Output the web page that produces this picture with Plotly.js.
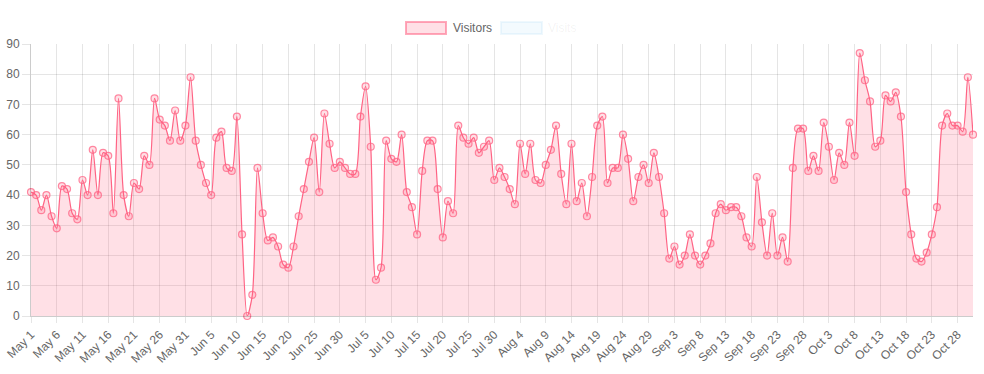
<!DOCTYPE html>
<html>
<head>
<meta charset="utf-8">
<script src="https://cdn.plot.ly/plotly-3.0.1.min.js"></script>
<style>html,body{margin:0;padding:0;background:#fff;}#chart{width:984px;height:374px;}</style>
</head>
<body>
<div id="chart"></div>
<script>
// Daily visitors, May 1 to Oct 31
var startDate = '2019-05-01';
var endDate = '2019-10-31';
var visitors = [
  41, 40, 35, 40, 33, 29, 43, 42, 34, 32,
  45, 40, 55, 40, 54, 53, 34, 72, 40, 33,
  44, 42, 53, 50, 72, 65, 63, 58, 68, 58,
  63, 79, 58, 50, 44, 40, 59, 61, 49, 48,
  66, 27, 0, 7, 49, 34, 25, 26, 23, 17,
  16, 23, 33, 42, 51, 59, 41, 67, 57, 49,
  51, 49, 47, 47, 66, 76, 56, 12, 16, 58,
  52, 51, 60, 41, 36, 27, 48, 58, 58, 42,
  26, 38, 34, 63, 59, 57, 59, 54, 56, 58,
  45, 49, 46, 42, 37, 57, 47, 57, 45, 44,
  50, 55, 63, 47, 37, 57, 38, 44, 33, 46,
  63, 66, 44, 49, 49, 60, 52, 38, 46, 50,
  44, 54, 46, 34, 19, 23, 17, 20, 27, 20,
  17, 20, 24, 34, 37, 35, 36, 36, 33, 26,
  23, 46, 31, 20, 34, 20, 26, 18, 49, 62,
  62, 48, 53, 48, 64, 56, 45, 54, 50, 64,
  53, 87, 78, 71, 56, 58, 73, 71, 74, 66,
  41, 27, 19, 18, 21, 27, 36, 63, 67, 63,
  63, 61, 79, 60
];
var seriesNames = ['Visitors', 'Visits'];

// date categories, one per value
var dates = [];
var t0 = Date.parse(startDate + 'T00:00:00Z');
for (var i = 0; i < visitors.length; i++) {
  dates.push(new Date(t0 + i * 86400000).toISOString().slice(0, 10));
}

var font = 'Liberation Sans, Helvetica Neue, Helvetica, Arial, sans-serif';
var grid = 'rgba(0,0,0,0.1)';

var trace = {
  x: dates, y: visitors, type: 'scatter', mode: 'lines+markers',
  name: seriesNames[0],
  line: {color: 'rgb(255,99,132)', width: 1.2, shape: 'spline', smoothing: 0.8},
  fill: 'tozeroy', fillcolor: 'rgba(255,99,132,0.2)',
  marker: {size: 7, color: 'rgba(255,99,132,0.2)', line: {color: 'rgba(255,99,132,0.75)', width: 1.2}},
  showlegend: false, cliponaxis: false
};

// plot area in pixels: left 31, right 973, top 44, bottom 316
function px(x) { return (x - 31) / 942; }
function py(y) { return (316 - y) / 272; }

var layout = {
  width: 984, height: 374,
  margin: {l: 31, r: 11, t: 44, b: 58},
  paper_bgcolor: '#fff', plot_bgcolor: '#fff',
  font: {family: font, size: 12, color: '#666'},
  showlegend: false,
  xaxis: {
    type: 'date', range: [startDate, endDate],
    tick0: startDate, dtick: 5 * 86400000, tickformat: '%b %-d',
    tickangle: -45, ticks: 'outside', ticklen: 6, tickcolor: grid,
    showgrid: true, gridcolor: grid, gridwidth: 1,
    showline: true, linecolor: 'rgba(0,0,0,0.2)', linewidth: 1,
    zeroline: false, fixedrange: true,
    tickfont: {family: font, size: 12, color: '#666'}
  },
  yaxis: {
    range: [0, 90], tick0: 0, dtick: 10,
    ticks: 'outside', ticklen: 8, tickcolor: grid,
    showgrid: true, gridcolor: grid, gridwidth: 1,
    showline: true, linecolor: 'rgba(0,0,0,0.2)', linewidth: 1,
    zeroline: false, fixedrange: true,
    tickfont: {family: font, size: 12, color: '#666'}
  },
  shapes: [
    {type: 'rect', xref: 'paper', yref: 'paper', x0: px(406), x1: px(446), y0: py(34), y1: py(22),
     fillcolor: 'rgba(255,99,132,0.2)', line: {color: 'rgba(255,99,132,0.55)', width: 2}},
    {type: 'rect', xref: 'paper', yref: 'paper', x0: px(501), x1: px(542), y0: py(34), y1: py(22),
     fillcolor: 'rgba(54,162,235,0.06)', line: {color: 'rgba(54,162,235,0.08)', width: 2}}
  ],
  annotations: [
    {xref: 'paper', yref: 'paper', x: px(451), y: py(28), xanchor: 'left', yanchor: 'middle',
     text: seriesNames[0], showarrow: false, font: {family: font, size: 12, color: '#666'}},
    {xref: 'paper', yref: 'paper', x: px(546), y: py(28), xanchor: 'left', yanchor: 'middle',
     text: seriesNames[1], showarrow: false, font: {family: font, size: 12, color: 'rgba(102,102,102,0.08)'}}
  ]
};

Plotly.newPlot('chart', [trace], layout, {displayModeBar: false, staticPlot: true});
</script>
</body>
</html>
